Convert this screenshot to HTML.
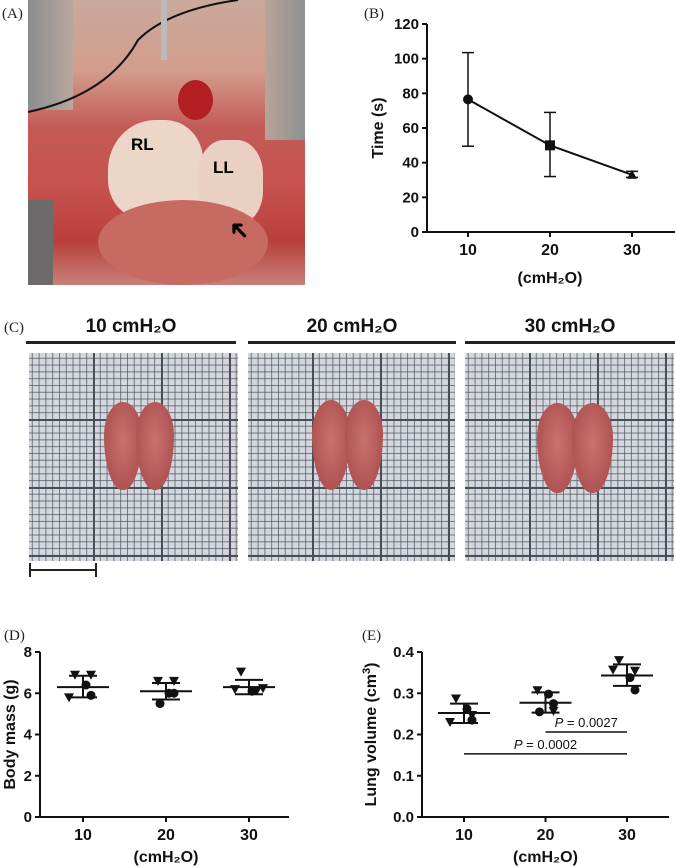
<!DOCTYPE html>
<html><head><meta charset="utf-8">
<style>
body{margin:0;width:676px;height:868px;background:#fff;position:relative;overflow:hidden;font-family:"Liberation Sans",sans-serif}
.lbl{position:absolute;font-family:"Liberation Serif",serif;font-size:15px;color:#222}
.grid{position:absolute;top:353px;height:208px;background-color:#d4d7de;
background-image:linear-gradient(#4a4e58 2px,transparent 2px),linear-gradient(90deg,#4a4e58 2px,transparent 2px),linear-gradient(rgba(80,84,95,.75) 1px,transparent 1px),linear-gradient(90deg,rgba(80,84,95,.75) 1px,transparent 1px);
background-size:68px 68px,68px 68px,6.8px 6.8px,6.8px 6.8px;background-position:-4px -2px}
.hdr{position:absolute;top:316px;font-weight:bold;font-size:19px;text-align:center;color:#111}
.hline{position:absolute;top:341px;height:3px;background:#222}
.lung{position:absolute}
.lobe{position:absolute;top:0;width:54%;height:100%;background:radial-gradient(ellipse at 50% 45%,#c97270,#b05352 70%,#93403f);border-radius:50% 50% 48% 48%/38% 38% 62% 62%}
.lobe.l{left:0}.lobe.r{right:0}
</style></head><body>
<div class="lbl" style="left:2px;top:6px">(A)</div>
<div style="position:absolute;left:28px;top:0;width:277px;height:285px;background:linear-gradient(180deg,#c9a99c 0%,#d39c8c 25%,#c25a55 45%,#c8524f 65%,#b8403c 85%,#c7817a 100%);overflow:hidden">
 <div style="position:absolute;left:0;top:0;width:45px;height:110px;background:linear-gradient(90deg,#8a8d8e,#b9a79d)"></div>
 <div style="position:absolute;right:0;top:0;width:40px;height:140px;background:linear-gradient(270deg,#8d9091,#b8a49a)"></div>
 <div style="position:absolute;left:0;top:200px;width:25px;height:85px;background:#6d6a6a"></div>
 <div style="position:absolute;left:80px;top:120px;width:95px;height:100px;background:#ecd6c8;border-radius:50% 40% 30% 40%"></div>
 <div style="position:absolute;left:170px;top:140px;width:65px;height:85px;background:#ead0c2;border-radius:40%"></div>
 <div style="position:absolute;left:70px;top:200px;width:170px;height:85px;background:#c66a62;border-radius:50%"></div>
 <div style="position:absolute;left:150px;top:80px;width:35px;height:40px;background:#b21e22;border-radius:50%"></div>
 <div style="position:absolute;left:103px;top:135px;font-weight:bold;font-size:17px">RL</div>
 <div style="position:absolute;left:185px;top:158px;font-weight:bold;font-size:17px">LL</div>
 <div style="position:absolute;left:200px;top:215px;font-size:26px;transform:rotate(-135deg)">➜</div>
 <svg width="277" height="285" style="position:absolute;left:0;top:0"><path d="M0 112 Q80 95 110 40 Q140 10 210 0" stroke="#111" stroke-width="2" fill="none"/><rect x="133" y="0" width="6" height="60" fill="#bbb"/></svg>
</div>

<div class="lbl" style="left:364px;top:6px">(B)</div>
<svg id="chartB" width="676" height="290" style="position:absolute;left:0;top:0"></svg>

<div class="lbl" style="left:4px;top:320px">(C)</div>
<div class="hdr" style="left:26px;width:210px">10 cmH₂O</div>
<div class="hdr" style="left:248px;width:208px">20 cmH₂O</div>
<div class="hdr" style="left:465px;width:210px">30 cmH₂O</div>
<div class="hline" style="left:26px;width:210px"></div>
<div class="hline" style="left:248px;width:208px"></div>
<div class="hline" style="left:465px;width:210px"></div>
<div class="grid" style="left:29px;width:209px"><div class="lung" style="left:75px;top:49px;width:70px;height:88px"><div class="lobe l"></div><div class="lobe r"></div></div></div>
<div class="grid" style="left:248px;width:207px"><div class="lung" style="left:64px;top:47px;width:71px;height:90px"><div class="lobe l"></div><div class="lobe r"></div></div></div>
<div class="grid" style="left:465px;width:209px"><div class="lung" style="left:72px;top:50px;width:76px;height:90px"><div class="lobe l"></div><div class="lobe r"></div></div></div>
<div style="position:absolute;left:29px;top:569px;width:68px;height:2px;background:#222"></div>
<div style="position:absolute;left:29px;top:563px;width:2px;height:14px;background:#222"></div>
<div style="position:absolute;left:95px;top:563px;width:2px;height:14px;background:#222"></div>

<div class="lbl" style="left:4px;top:628px">(D)</div>
<div class="lbl" style="left:362px;top:628px">(E)</div>
<svg id="chartDE" width="676" height="868" style="position:absolute;left:0;top:0"></svg>

<script>
// Panel B data
const bCats=[10,20,30];
const bMeans=[76.5,50,33];
const bLow=[49.5,32,31.5];
const bHigh=[103.5,69,35];
const bTicks=[0,20,40,60,80,100,120];
// Panel D data
const dCats=[10,20,30];
const dMeans=[6.3,6.1,6.3];
const dSdLow=[5.8,5.7,5.95];
const dSdHigh=[6.85,6.5,6.65];
const dTri=[[6.85,6.85,5.75],[6.55,6.55],[7.0,6.1,6.15,6.2]];
const dDot=[[6.4,5.9],[6.0,6.0,5.5],[6.1]];
const dTicks=[0,2,4,6,8];
// Panel E data
const eCats=[10,20,30];
const eMeans=[0.252,0.277,0.343];
const eSdLow=[0.228,0.253,0.318];
const eSdHigh=[0.275,0.302,0.37];
const eTri=[[0.285,0.245,0.228],[0.305,0.255],[0.378,0.352,0.355]];
const eDot=[[0.262,0.235],[0.298,0.275,0.255],[0.338,0.308]];
const eTicks=[0.0,0.1,0.2,0.3,0.4];
const ePvals=["P = 0.0027","P = 0.0002"];
const ePvalY=[0.206,0.153];
const ePvalFrom=[20,10];

const NS="http://www.w3.org/2000/svg";
function mk(svg,tag,attrs,name){const e=document.createElementNS(NS,tag);for(const k in attrs)e.setAttribute(k,attrs[k]);


svg.appendChild(e);return e;}
function txt(svg,x,y,s,opts,name){const t=mk(svg,'text',Object.assign({x:x,y:y,'font-family':'Liberation Sans, sans-serif','font-weight':'bold','font-size':15,fill:'#111'},opts||{}),name);t.textContent=s;return t;}

function axes(svg,cfg){
 const {x0,x1,yTop,yBot,vmax,cats,catX,ticks,fmt,ytitle,tOff,xtOff,fs}=cfg;
 const Y=v=>yBot-(v/vmax)*(yBot-yTop);
 mk(svg,'line',{x1:x0,y1:yTop,x2:x0,y2:yBot+1,stroke:'#111','stroke-width':2},'y-axis');
 mk(svg,'line',{x1:x0-1,y1:yBot,x2:x1,y2:yBot,stroke:'#111','stroke-width':2},'x-axis');
 ticks.forEach(t=>{mk(svg,'line',{x1:x0-5,y1:Y(t),x2:x0,y2:Y(t),stroke:'#111','stroke-width':2},'y-tick');
  txt(svg,x0-8,Y(t)+5,fmt(t),{'text-anchor':'end','font-size':fs},'y-tick-label');});
 cats.forEach(c=>{const x=catX(c);mk(svg,'line',{x1:x,y1:yBot,x2:x,y2:yBot+5,stroke:'#111','stroke-width':2},'x-tick');
  txt(svg,x,yBot+23,String(c),{'text-anchor':'middle','font-size':fs+1},'x-tick-label');});
 const mid=(catX(cats[0])+catX(cats[cats.length-1]))/2;
 txt(svg,mid,yBot+xtOff,'(cmH₂O)',{'text-anchor':'middle','font-size':fs+1},'x-axis-title');
 const ty=(yTop+yBot)/2;
 const tt=txt(svg,0,0,'',{'text-anchor':'middle','font-size':fs+1,transform:`translate(${x0-tOff},${ty}) rotate(-90)`},'y-axis-title');
 tt.innerHTML=ytitle;
 return Y;
}
function tri(svg,x,y,name){mk(svg,'path',{d:`M${x-5} ${y-5}L${x+5} ${y-5}L${x} ${y+4}Z`,fill:'#111'},name);}
function dot(svg,x,y,name){mk(svg,'circle',{cx:x,cy:y,r:4.5,fill:'#111'},name);}

// B
const sB=document.getElementById('chartB');
const bX=c=>468+(c-10)/10*82;
const YB=axes(sB,{x0:427,x1:675,yTop:24,yBot:232,vmax:120,cats:bCats,catX:bX,ticks:bTicks,fmt:t=>String(t),ytitle:'Time (s)',tOff:44,xtOff:51,fs:15});
mk(sB,'polyline',{points:bCats.map((c,i)=>bX(c)+','+YB(bMeans[i])).join(' '),fill:'none',stroke:'#111','stroke-width':2},'time-line');
bCats.forEach((c,i)=>{const x=bX(c);
 mk(sB,'line',{x1:x,y1:YB(bLow[i]),x2:x,y2:YB(bHigh[i]),stroke:'#111','stroke-width':1.5},'error-bar');
 [bLow[i],bHigh[i]].forEach(v=>mk(sB,'line',{x1:x-6,y1:YB(v),x2:x+6,y2:YB(v),stroke:'#111','stroke-width':1.5},'error-cap'));
 const y=YB(bMeans[i]);
 if(i==0)mk(sB,'circle',{cx:x,cy:y,r:5,fill:'#111'},'point-10');
 else if(i==1)mk(sB,'rect',{x:x-5,y:y-5,width:10,height:10,fill:'#111'},'point-20');
 else mk(sB,'path',{d:`M${x-5} ${y+4}L${x+5} ${y+4}L${x} ${y-5}Z`,fill:'#111'},'point-30');
});

// D & E
const sD=document.getElementById('chartDE');
function scatter(svg,cats,means,lo,hi,tris,dots,catX,Y,pre){
 cats.forEach((c,i)=>{const x=catX(c);
  mk(svg,'line',{x1:x-26,y1:Y(means[i]),x2:x+26,y2:Y(means[i]),stroke:'#111','stroke-width':2},pre+'-mean');
  mk(svg,'line',{x1:x,y1:Y(lo[i]),x2:x,y2:Y(hi[i]),stroke:'#111','stroke-width':2},pre+'-sd');
  [lo[i],hi[i]].forEach(v=>mk(svg,'line',{x1:x-14,y1:Y(v),x2:x+14,y2:Y(v),stroke:'#111','stroke-width':2},pre+'-sd-cap'));
  const offs=[-8,8,-14,14,0];
  tris[i].forEach((v,j)=>tri(svg,x+offs[j%5],Y(v),pre+'-triangle'));
  dots[i].forEach((v,j)=>dot(svg,x+[3,8,-6][j%3],Y(v),pre+'-dot'));
 });
}
const dX=c=>83+(c-10)/10*83;
const YD=axes(sD,{x0:40,x1:289,yTop:652,yBot:817,vmax:8,cats:dCats,catX:dX,ticks:dTicks,fmt:t=>String(t),ytitle:'Body mass (g)',tOff:25,xtOff:45,fs:15});
scatter(sD,dCats,dMeans,dSdLow,dSdHigh,dTri,dDot,dX,YD,'body-mass');

const eX=c=>464+(c-10)/10*81.5;
const YE=axes(sD,{x0:422,x1:669,yTop:652,yBot:817,vmax:0.4,cats:eCats,catX:eX,ticks:eTicks,fmt:t=>t.toFixed(1),ytitle:'Lung volume (cm<tspan baseline-shift="super" font-size="11">3</tspan>)',tOff:46,xtOff:45,fs:15});
scatter(sD,eCats,eMeans,eSdLow,eSdHigh,eTri,eDot,eX,YE,'lung-volume');
ePvals.forEach((p,i)=>{const y=YE(ePvalY[i]);const xa=eX(ePvalFrom[i]),xb=eX(30);
 mk(sD,'line',{x1:xa,y1:y,x2:xb,y2:y,stroke:'#111','stroke-width':1.5},'significance-line');
 const t=txt(sD,(xa+xb)/2,y-5,'',{'text-anchor':'middle','font-size':13,'font-weight':'normal'},'p-value-label');
 t.innerHTML='<tspan font-style="italic">P</tspan>'+p.slice(1);
});
</script>
</body></html>
